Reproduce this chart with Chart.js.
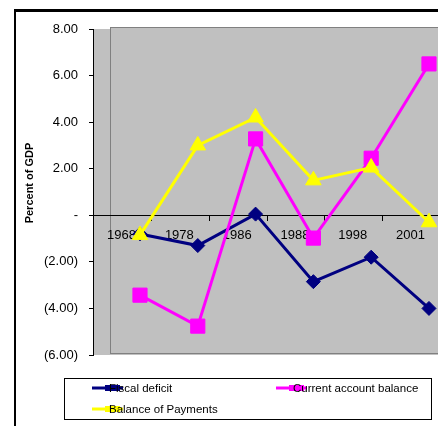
<!DOCTYPE html>
<html>
<head>
<meta charset="utf-8">
<script src="https://cdn.jsdelivr.net/npm/chart.js@4/dist/chart.umd.min.js"></script>
<style>
  html, body { margin: 0; padding: 0; background: #fff; overflow: hidden; }
  #wrap { position: relative; width: 438px; height: 426px; }
</style>
</head>
<body>
<div id="wrap"><canvas id="gdp_canvas" width="438" height="426"></canvas></div>
<script>
// Years on the category axis
var years = ['1968', '1978', '1986', '1988', '1998', '2001'];

// Series, percent of GDP
var fiscalDeficit = [-0.8, -1.3, 0.05, -2.85, -1.8, -4.0];
var currentAccount = [-3.43, -4.76, 3.28, -0.98, 2.45, 6.5];
var balanceOfPayments = [-0.85, 3.0, 4.2, 1.5, 2.05, -0.3];

// Value axis
var yTicks = [-6, -4, -2, 0, 2, 4, 6, 8];

var FONT = 'Arial, "Liberation Sans", sans-serif';

function fmtPercent(v) {
    if (v === 0) return '-';
    var s = Math.abs(v).toFixed(2);
    return v < 0 ? '(' + s + ')' : s;
}

function toPoints(values) {
    return values.map(function (v, i) { return {x: i, y: v}; });
}

// Paint page frame and grey plot area behind the axes
var backdrop = {
    id: 'backdrop',
    beforeDraw: function (chart) {
        var ctx = chart.ctx, area = chart.chartArea, x = chart.scales.x;
        ctx.save();
        ctx.fillStyle = '#ffffff';
        ctx.fillRect(0, 0, chart.width, chart.height);

        // outer border, top and left edges
        ctx.fillStyle = '#000000';
        ctx.fillRect(14, 9, chart.width - 14, 3);
        ctx.fillRect(14, 9, 2, chart.height - 9);

        ctx.fillStyle = '#c0c0c0';
        ctx.fillRect(area.left, area.top, area.right - area.left, area.bottom - area.top);

        var fx = Math.round(x.getPixelForValue(-0.5)) - 0.5;
        ctx.fillRect(fx, area.top - 2, area.right - fx, area.bottom - area.top);
        ctx.strokeStyle = '#808080';
        ctx.lineWidth = 1;
        ctx.strokeRect(fx, area.top - 1.5, area.right - fx + 5, area.bottom - area.top);
        ctx.restore();
    }
};

// Vertical axis title
var yTitle = {
    id: 'yTitle',
    afterDraw: function (chart) {
        var ctx = chart.ctx;
        ctx.save();
        ctx.translate(30, 183);
        ctx.rotate(-Math.PI / 2);
        ctx.font = 'bold 11px ' + FONT;
        ctx.fillStyle = '#000000';
        ctx.textAlign = 'center';
        ctx.textBaseline = 'middle';
        ctx.fillText('Percent of GDP', 0, 0);
        ctx.restore();
    }
};

// Boxed legend, two columns
var boxLegend = {
    id: 'boxLegend',
    afterDraw: function (chart) {
        var ctx = chart.ctx;
        var slots = [[92, 388], [276, 388], [92, 409]];
        ctx.save();
        ctx.fillStyle = '#ffffff';
        ctx.fillRect(64.5, 378.5, 367, 41);
        ctx.strokeStyle = '#000000';
        ctx.lineWidth = 1;
        ctx.strokeRect(64.5, 378.5, 367, 41);

        chart.data.datasets.forEach(function (ds, i) {
            var sx = slots[i][0], sy = slots[i][1];
            ctx.strokeStyle = ds.borderColor;
            ctx.lineWidth = 3;
            ctx.beginPath();
            ctx.moveTo(sx, sy);
            ctx.lineTo(sx + 31, sy);
            ctx.stroke();
            // squashed marker blob
            ctx.fillStyle = ds.borderColor;
            ctx.fillRect(sx + 13, sy - 3, 15, 6);
            ctx.fillStyle = '#000000';
            ctx.font = '11.5px ' + FONT;
            ctx.textBaseline = 'middle';
            ctx.textAlign = 'left';
            ctx.fillText(ds.label, sx + 17, sy + 1);
        });
        ctx.restore();
    }
};

function lineSet(label, values, colour, style, radius, order) {
    return {
        label: label,
        data: toPoints(values),
        borderColor: colour,
        backgroundColor: colour,
        borderWidth: 3,
        pointStyle: style,
        pointRadius: radius,
        pointBackgroundColor: colour,
        pointBorderColor: colour,
        pointBorderWidth: 1,
        tension: 0,
        clip: false,
        order: order
    };
}

(function () {
    var ctx = document.getElementById('gdp_canvas').getContext('2d');

    new Chart(ctx, {
        type: 'line',
        data: {
            datasets: [
                lineSet('Fiscal deficit', fiscalDeficit, '#000080', 'rectRot', 7, 3),
                lineSet('Current account balance', currentAccount, '#ff00ff', 'rect', 10, 2),
                lineSet('Balance of Payments', balanceOfPayments, '#ffff00', 'triangle', 9, 1)
            ]
        },
        options: {
            responsive: false,
            animation: false,
            devicePixelRatio: 1,
            layout: {autoPadding: false, padding: {top: 29, bottom: 71, left: 0, right: 0}},
            plugins: {
                legend: {display: false},
                tooltip: {enabled: false}
            },
            scales: {
                x: {
                    type: 'linear',
                    position: {y: 0},
                    min: -0.813,
                    max: 5.156,
                    afterBuildTicks: function (scale) {
                        // tick marks sit a little right of each year
                        scale.ticks = years.map(function (y, i) { return {value: i + 0.2}; });
                    },
                    afterFit: function (scale) {
                        scale.paddingLeft = 0;
                        scale.paddingRight = 0;
                    },
                    grid: {display: true, drawOnChartArea: false, tickLength: 5, color: '#000000'},
                    border: {display: true, color: '#000000', width: 1},
                    ticks: {
                        autoSkip: false,
                        maxRotation: 0,
                        padding: 7,
                        labelOffset: -30,
                        color: '#000000',
                        font: {family: FONT, size: 13},
                        callback: function (v, i) { return years[i]; }
                    }
                },
                y: {
                    min: -6,
                    max: 8,
                    afterBuildTicks: function (scale) {
                        scale.ticks = yTicks.map(function (v) { return {value: v}; });
                    },
                    afterFit: function (scale) { scale.width = 93; },
                    grid: {display: true, drawOnChartArea: false, tickLength: 4, color: '#000000'},
                    border: {display: true, color: '#000000', width: 1},
                    ticks: {
                        padding: 11,
                        color: '#000000',
                        font: {family: FONT, size: 13},
                        callback: function (v) { return fmtPercent(v); }
                    }
                }
            }
        },
        plugins: [backdrop, yTitle, boxLegend]
    });
})();
</script>
</body>
</html>
